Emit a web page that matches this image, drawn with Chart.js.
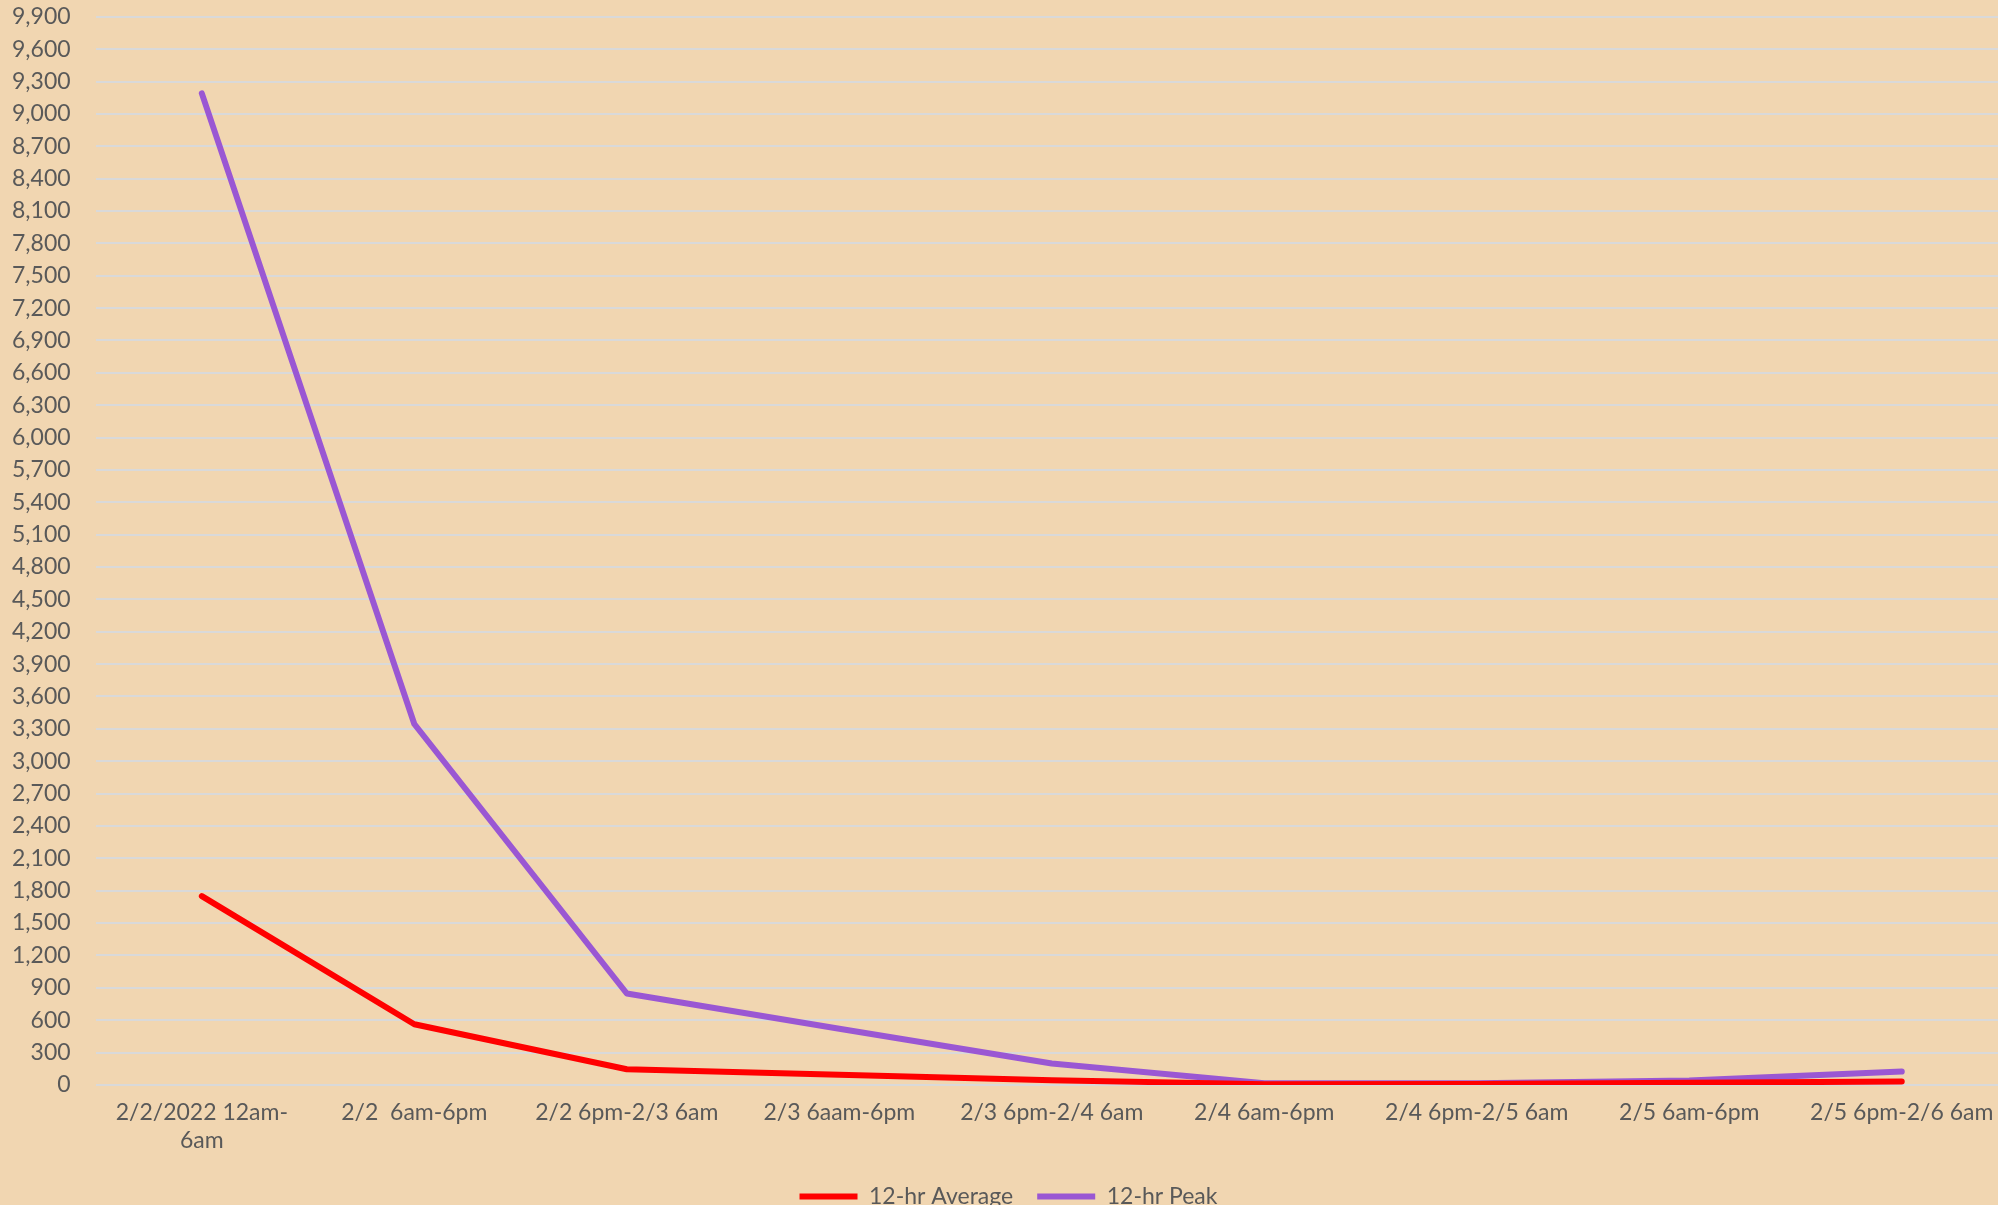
<!DOCTYPE html>
<html>
<head>
<meta charset="utf-8">
<script src="https://cdn.jsdelivr.net/npm/chart.js@4"></script>
<style>
  html, body { margin: 0; padding: 0; background: #F1D6B1; overflow: hidden; }
  #wrap { width: 1998px; height: 1205px; overflow: hidden; }
  canvas { display: block; }
</style>
</head>
<body>
<div id="wrap">
<canvas id="myChart" width="2008" height="1205"></canvas>
</div>
<script>
// categories (12 hour windows)
var periods = [
    ['2/2/2022 12am-', '6am'],
    '2/2  6am-6pm',
    '2/2 6pm-2/3 6am',
    '2/3 6aam-6pm',
    '2/3 6pm-2/4 6am',
    '2/4 6am-6pm',
    '2/4 6pm-2/5 6am',
    '2/5 6am-6pm',
    '2/5 6pm-2/6 6am'
];
var avgValues = [1750, 562, 145, 95, 44, 6, 8, 20, 31];
var peakValues = [9190, 3345, 847, 520, 198, 16, 16, 40, 123];

var yMax = 9900;
var yStep = 300;

var textColor = '#595959';
var fontFamily = 'Lato, "Open Sans", sans-serif';

var ctx = document.getElementById('myChart');
var lineGraph = new Chart(ctx, {
    type: 'line',
    data: {
        labels: periods,
        datasets: [
            {
                label: '12-hr Average',
                data: avgValues,
                borderColor: '#FF0000',
                backgroundColor: '#FF0000',
                borderWidth: 6,
                pointRadius: 0,
                borderCapStyle: 'round',
                borderJoinStyle: 'round',
                tension: 0
            },
            {
                label: '12-hr Peak',
                data: peakValues,
                borderColor: '#9A57D3',
                backgroundColor: '#9A57D3',
                borderWidth: 6,
                pointRadius: 0,
                borderCapStyle: 'round',
                borderJoinStyle: 'round',
                tension: 0
            }
        ]
    },
    options: {
        responsive: false,
        devicePixelRatio: 1,
        animation: false,
        layout: {
            padding: { top: 0, left: 9, right: 0, bottom: -13 }
        },
        plugins: {
            tooltip: { enabled: false },
            legend: {
                position: 'bottom',
                labels: {
                    usePointStyle: true,
                    pointStyle: 'line',
                    pointStyleWidth: 58,
                    boxHeight: 22,
                    padding: 24,
                    color: textColor,
                    font: { family: fontFamily, size: 23 }
                }
            }
        },
        scales: {
            x: {
                offset: true,
                grid: { display: false },
                border: { display: false },
                ticks: {
                    autoSkip: false,
                    maxRotation: 0,
                    padding: 6,
                    color: textColor,
                    font: { family: fontFamily, size: 23, lineHeight: 1.22 }
                }
            },
            y: {
                min: 0,
                max: yMax,
                border: { display: false },
                grid: { color: '#D9D9D9', lineWidth: 2, drawTicks: true, tickLength: 22, tickColor: 'rgba(0,0,0,0)' },
                ticks: {
                    stepSize: yStep,
                    padding: 3,
                    color: textColor,
                    font: { family: fontFamily, size: 23 },
                    callback: function (v) { return v.toLocaleString('en-US'); }
                }
            }
        }
    }
});
</script>
</body>
</html>
